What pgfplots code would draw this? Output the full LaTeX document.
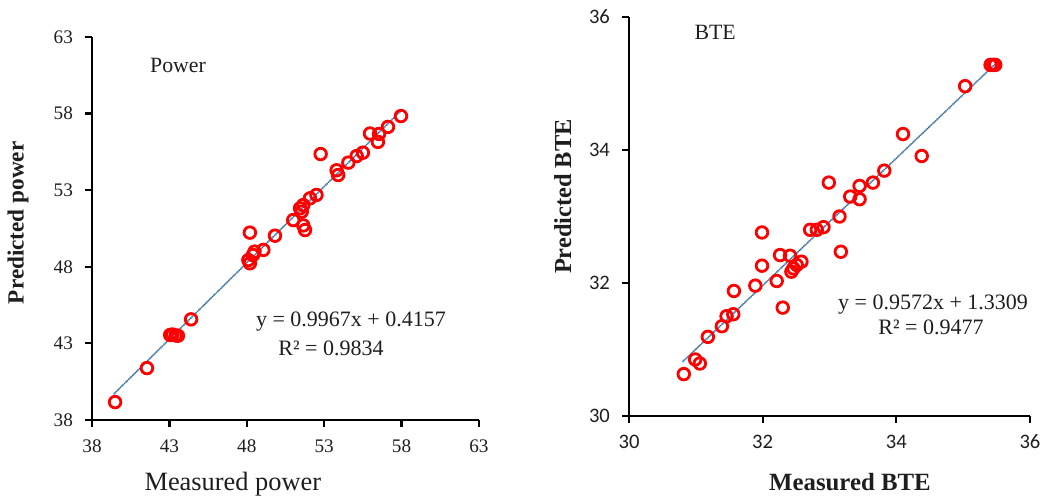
\documentclass[border=0pt]{standalone}
\usepackage{fontspec}
\setmainfont{Liberation Serif}
\newfontfamily\calibri{Carlito}
\usepackage{pgfplots}
\pgfplotsset{compat=1.18}
\definecolor{trend}{RGB}{91,155,213}
\definecolor{txt}{RGB}{30,30,30}
\begin{document}
\begin{tikzpicture}
\pgfplotsset{
  common/.style={
    scale only axis,
    axis x line*=bottom, axis y line*=left,
    axis line style={line width=1.3pt, black, -},
    tick style={line width=1.1pt, black},
    major tick length=3.5pt,
    tick align=outside,
    /pgf/number format/assume math mode=true,
    clip=false,
  },
}
% ---------------- Power ----------------
\begin{axis}[common,
  at={(46pt,39pt)}, anchor=south west,
  width=193.5pt, height=191.5pt,
  xmin=38, xmax=63, ymin=38, ymax=63,
  xtick={38,43,48,53,58,63}, ytick={38,43,48,53,58,63},
  ticklabel style={font=\fontsize{9.6}{11}\selectfont, text=txt},
  yticklabel style={xshift=-2.5pt},
  xticklabel style={yshift=-3pt},
  xlabel={Measured power},
  xlabel style={at={(axis description cs:0.364,-0.167)}, anchor=center, font=\fontsize{13.2}{15}\selectfont, text=txt},
  ylabel={\textbf{Predicted power}},
  ylabel style={at={(axis description cs:-0.191,0.515)}, anchor=center, rotate=0, font=\fontsize{11.6}{13}\selectfont, text=txt},
]
\addplot[only marks, mark=o, mark size=2.9pt, red, line width=1.4pt] coordinates {
(39.49,39.17) (41.55,41.39)
(43.05,43.55) (43.2,43.58) (43.4,43.52) (43.55,43.5)
(44.4,44.57)
(48.2,50.23) (48.1,48.44) (48.2,48.23) (48.4,48.77) (48.5,48.99) (49.07,49.1)
(49.82,50.03) (51.0,51.05)
(51.44,51.82) (51.65,52.03) (51.55,51.6)
(51.65,50.7) (51.76,50.4)
(52.08,52.47) (52.5,52.69)
(52.77,55.36)
(53.8,54.3) (53.9,53.99)
(54.56,54.8) (55.1,55.23) (55.5,55.45)
(55.96,56.7) (56.47,56.15) (56.54,56.67) (57.12,57.13) (57.96,57.84)
};
\addplot[gray!70!black, line width=0.5pt] coordinates {(39.4,39.686) (58.0,58.224)};
\addplot[trend, line width=0.9pt, dash pattern=on 1.5pt off 1.2pt] coordinates {(39.4,39.686) (58.0,58.224)};
\node[font=\fontsize{10.9}{12}\selectfont, text=txt] at (axis cs:43.56,61.17) {Power};
\node[font=\fontsize{11}{12}\selectfont, text=txt] at (axis cs:54.73,44.4) {y = 0.9967x + 0.4157};
\node[font=\fontsize{11}{12}\selectfont, text=txt] at (axis cs:53.44,42.7) {R² = 0.9834};
\end{axis}
% ---------------- BTE ----------------
\begin{axis}[common,
  at={(314.5pt,41pt)}, anchor=south west,
  width=200.5pt, height=199.5pt,
  xmin=30, xmax=36, ymin=30, ymax=36,
  xtick={30,32,34,36}, ytick={30,32,34,36},
  ticklabel style={font=\calibri\fontsize{10.3}{12}\selectfont, text=txt},
  yticklabel style={xshift=-2.5pt},
  xticklabel style={yshift=-2.5pt},
  xlabel={\textbf{Measured BTE}},
  xlabel style={at={(axis description cs:0.551,-0.165)}, anchor=center, font=\fontsize{12.4}{14}\selectfont, text=txt},
  ylabel={\textbf{Predicted BTE}},
  ylabel style={at={(axis description cs:-0.165,0.55)}, anchor=center, font=\fontsize{12.2}{14}\selectfont, text=txt},
]
\addplot[only marks, mark=o, mark size=2.9pt, red, line width=1.4pt] coordinates {
(35.41,35.28) (35.45,35.28) (35.48,35.28)
(35.03,34.96) (34.1,34.24) (34.38,33.91)
(33.82,33.69) (33.65,33.51) (33.45,33.46) (33.45,33.26) (33.31,33.30)
(32.99,33.51) (33.15,33.0)
(32.71,32.80) (32.81,32.80) (32.91,32.84)
(33.17,32.47)
(31.99,32.76) (31.99,32.26)
(32.26,32.42) (32.41,32.41)
(32.46,32.22) (32.51,32.27) (32.58,32.32) (32.43,32.17)
(32.21,32.03) (32.3,31.63)
(31.89,31.96) (31.57,31.88)
(31.56,31.53) (31.46,31.50) (31.39,31.35)
(31.18,31.19)
(30.99,30.85) (31.06,30.79)
(30.82,30.63)
};
\addplot[gray!70!black, line width=0.5pt] coordinates {(30.8,30.813) (35.48,35.293)};
\addplot[trend, line width=0.9pt, dash pattern=on 1.5pt off 1.2pt] coordinates {(30.8,30.813) (35.48,35.293)};
\node[font=\fontsize{10.9}{12}\selectfont, text=txt] at (axis cs:31.29,35.77) {BTE};
\node[font=\fontsize{11}{12}\selectfont, text=txt] at (axis cs:34.55,31.68) {y = 0.9572x + 1.3309};
\node[font=\fontsize{11}{12}\selectfont, text=txt] at (axis cs:34.52,31.34) {R² = 0.9477};
\end{axis}
\pgfresetboundingbox
\path[use as bounding box] (0,0) rectangle (523pt,249pt);
\end{tikzpicture}
\end{document}
